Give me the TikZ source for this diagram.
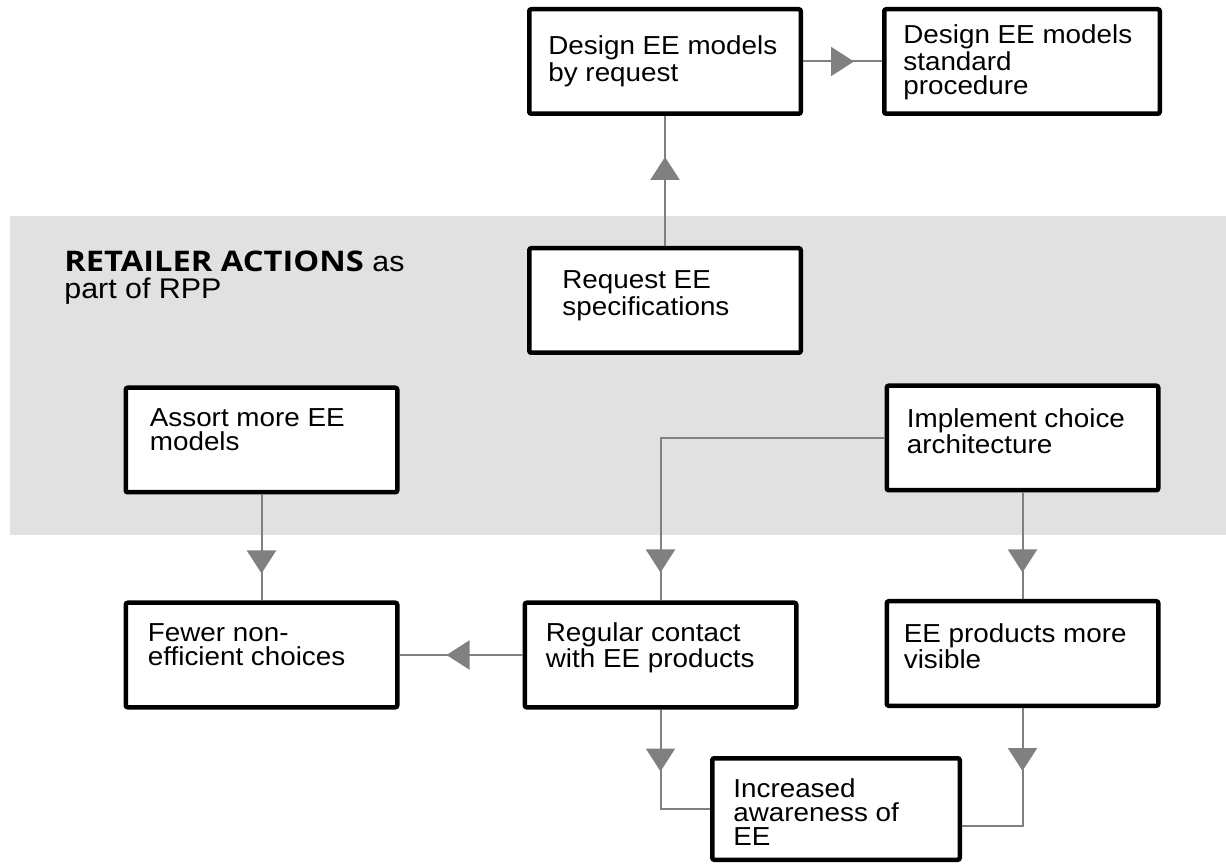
\documentclass[tikz,border=0pt]{standalone}
\usepackage{fontspec}
\setmainfont{Liberation Sans}[FakeStretch=1.07]
\newfontfamily\titlebf{Open Sans}[FakeStretch=1.15]
\usetikzlibrary{arrows.meta,decorations.markings}
\definecolor{band}{HTML}{E1E1E1}
\definecolor{conn}{HTML}{808080}
\tikzset{
  box/.style={draw=black, line width=2.25pt, fill=white, rounded corners=1pt,
    minimum width=135.75pt, minimum height=52.25pt, inner sep=0pt},
  lbl/.style={anchor=base west, inner sep=0pt, font=\fontsize{13}{12}\selectfont},
  link/.style={draw=conn, line width=1pt},
  tipat/.style={postaction={decorate}, decoration={markings,
    mark=at position #1 with {\arrow[conn]{Triangle[width=14.5pt,length=11.5pt]}}}}
}
\newcommand{\boxtext}[1]{\parbox[t]{200pt}{\raggedright #1}}
\begin{document}
\begin{tikzpicture}[x=0.5pt,y=-0.5pt]
\useasboundingbox (0,0) rectangle (1226,865);
\fill[band] (10,216) rectangle (1226,535);

% boxes
\node[box] (A) at (665,61.5) {};
\node[box, minimum width=137.75pt] (B) at (1022,61.5) {};
\node[box] (R) at (665,300.5) {};
\node[box] (AS) at (261.5,440) {};
\node[box] (IM) at (1022.5,438) {};
\node[box] (FE) at (261.5,655) {};
\node[box] (RG) at (660.5,655) {};
\node[box] (EV) at (1022.5,653.5) {};
\node[box, minimum width=123.75pt, minimum height=50.75pt] (IN) at (836,809) {};

% texts
\node[lbl] (tA) at ([shift={(21,48)}]A.north west) {\boxtext{Design EE models\\by request}};
\node[lbl] (tB) at ([shift={(21,37)}]B.north west) {\boxtext{Design EE models\\standard\\procedure}};
\node[lbl] (tR) at ([shift={(35,43)}]R.north west) {\boxtext{Request EE\\specifications}};
\node[lbl] (tAS) at ([shift={(26,41)}]AS.north west) {\boxtext{Assort more EE\\models}};
\node[lbl] (tIM) at ([shift={(22,44)}]IM.north west) {\boxtext{Implement choice\\architecture}};
\node[lbl] (tFE) at ([shift={(24,41)}]FE.north west) {\boxtext{Fewer non-\\efficient choices}};
\node[lbl] (tRG) at ([shift={(23,41)}]RG.north west) {\boxtext{Regular contact\\with EE products}};
\node[lbl] (tEV) at ([shift={(19,43)}]EV.north west) {\boxtext{EE products more\\visible}};
\node[lbl] (tIN) at ([shift={(23,41)}]IN.north west) {\boxtext{Increased\\awareness of\\EE}};

% title
\node[anchor=base west, inner sep=0pt, font=\fontsize{14.2}{13.5}\selectfont] (title) at (64,272)
  {\parbox[t]{300pt}{{\titlebf\bfseries RETAILER ACTIONS} as\\part of RPP}};

% connectors
\draw[link, line width=1.4pt, tipat=44.5pt] (R.north) -- (A.south);
\draw[link, tipat=25.5pt] (A.east) -- (B.west);
\draw[link, tipat=39.5pt] (AS.south) -- (FE.north);
\draw[link, tipat=179.25pt] (IM.west) -| (RG.north);
\draw[link, tipat=40pt] (IM.south) -- (EV.north);
\draw[link, tipat=38pt] (RG.west) -- (FE.east);
\draw[link, tipat=31pt] (RG.south) |- (IN.west);
\draw[link, tipat=31.5pt] (EV.south) |- ([yshift=-8.5pt]IN.east);
\end{tikzpicture}
\end{document}
